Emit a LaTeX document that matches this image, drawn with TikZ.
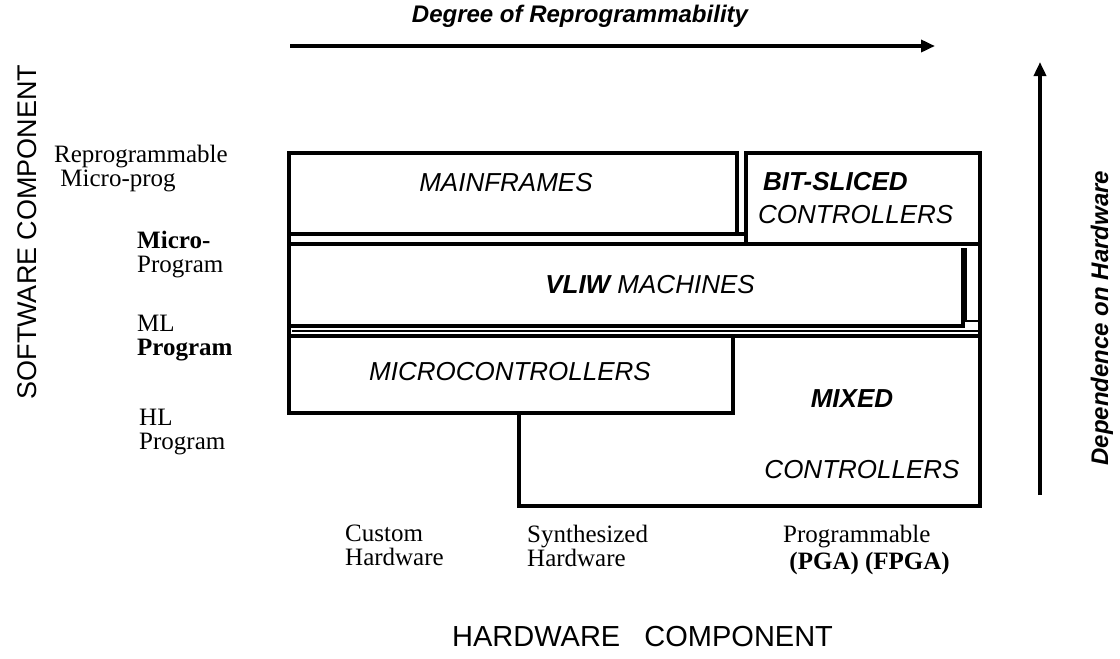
\documentclass[tikz,border=0pt]{standalone}
\usepackage{fontspec}
\setmainfont{Liberation Serif}
\setsansfont{Liberation Sans}
\usetikzlibrary{arrows.meta}
\tikzset{
  boxline/.style={line width=3.5pt, line join=miter},
  thinline/.style={line width=1.5pt},
  boxlabel/.style={font=\sffamily\itshape\fontsize{26}{28}\selectfont, inner sep=0pt},
  boldlabel/.style={font=\sffamily\itshape\bfseries\fontsize{26}{28}\selectfont, inner sep=0pt},
  axislabel/.style={font=\sffamily\itshape\bfseries\fontsize{24}{26}\selectfont, inner sep=0pt},
  sidelabel/.style={font=\sffamily\fontsize{27}{28}\selectfont, inner sep=0pt},
  levellabel/.style={font=\rmfamily\fontsize{25}{24}\selectfont, align=left, inner sep=0pt, anchor=north west},
  hwlabel/.style={font=\rmfamily\fontsize{25}{24}\selectfont, align=left, inner sep=0pt, anchor=north west},
  axisarrow/.style={line width=3.5pt, -{Triangle[length=14pt,width=12pt]}},
}
\begin{document}
\begin{tikzpicture}[x=1pt,y=-1pt]
\useasboundingbox[fill=white] (0,0) rectangle (1120,659);

% axis arrows
\coordinate (hstart) at (290,46);
\coordinate (hend) at (935,46);
\draw[axisarrow] (hstart) -- (hend);
\node[axislabel] (degree) at (580,16) {Degree of Reprogrammability};

\coordinate (vstart) at (1040,495);
\coordinate (vend) at (1040,62);
\draw[axisarrow] (vstart) -- (vend);
\node[axislabel, rotate=90] (depend) at (1102,318) {Dependence on Hardware};

\node[sidelabel, rotate=90] (sw) at (27,232) {SOFTWARE COMPONENT};
\node[sidelabel, font=\sffamily\fontsize{29}{30}\selectfont, anchor=west] (hw) at (452,637) {HARDWARE\ \ \ COMPONENT};

% boxes
% mainframes
\draw[boxline] (289,153) rectangle (737,234);
\draw[boxline] (737,234) -- (748,234);
% bit-sliced
\draw[boxline] (746,153) rectangle (980,244);
% VLIW
\draw[boxline] (289,244) -- (746,244);
\draw[boxline] (289,153) -- (289,326) -- (963,326) -- (963,248);
\draw[thinline] (966,248) -- (966,321) -- (980,321);
\draw[thinline] (292,331) -- (980,331);
% microcontrollers
\draw[boxline] (289,326) -- (289,413) -- (733,413) -- (733,336);
\draw[boxline] (289,336) -- (980,336);
% mixed
\draw[boxline] (980,244) -- (980,506) -- (519,506) -- (519,413);

% box labels
\node[boxlabel] (mainframes) at (506,183) {MAINFRAMES};
\node[boldlabel, anchor=west] (bitsliced) at (763,182) {BIT-SLICED};
\node[boxlabel, anchor=west] (bscontrollers) at (758,215) {CONTROLLERS};
\node[boxlabel] (vliw) at (650,285) {\bfseries VLIW\mdseries\ MACHINES};
\node[boxlabel] (micro) at (510,372) {MICROCONTROLLERS};
\node[boldlabel] (mixed) at (852,399) {MIXED};
\node[boxlabel] (mxcontrollers) at (862,470) {CONTROLLERS};

% level labels
\node[levellabel] (lv1) at (54,145) {Reprogrammable\\\ Micro-prog};
\node[levellabel] (lv2) at (137,231) {\bfseries Micro-\\Program};
\node[levellabel] (lv3) at (137,315) {ML\\\bfseries Program};
\node[levellabel] (lv4) at (139,409) {HL\\Program};

% hardware labels
\node[hwlabel] (hw1) at (345,525) {Custom\\Hardware};
\node[hwlabel] (hw2) at (527,525) {Synthesized\\Hardware};
\node[hwlabel] (hw3) at (783,525) {Programmable\\[3pt]\ \bfseries (PGA) (FPGA)};
\end{tikzpicture}
\end{document}
